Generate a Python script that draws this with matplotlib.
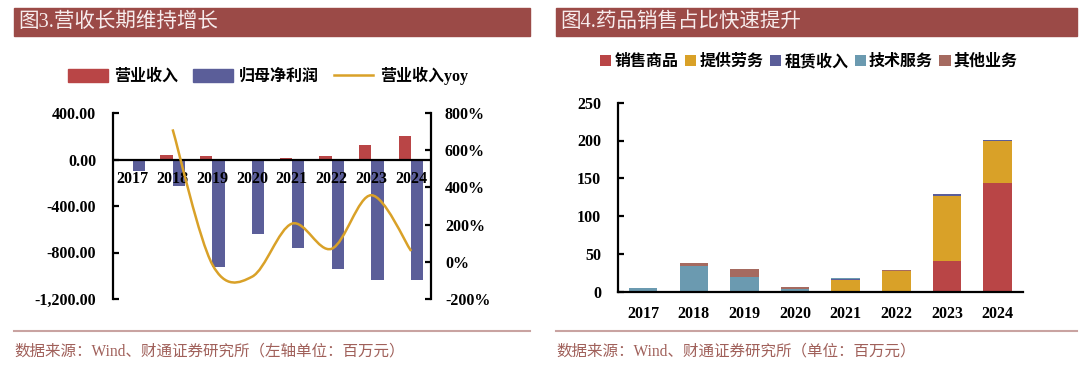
import matplotlib
matplotlib.use('Agg')
import matplotlib.pyplot as plt
from matplotlib.patches import Rectangle, PathPatch
from matplotlib.path import Path
from matplotlib.lines import Line2D
import numpy as np

years = ['2017', '2018', '2019', '2020', '2021', '2022', '2023', '2024']

# left chart (百万元)
revenue = [4.7, 38, 30, 6, 17, 29, 129, 201]
net_profit = [-99, -227, -921, -638, -762, -946, -1040, -1034]
yoy_years = ['2018', '2019', '2020', '2021', '2022', '2023', '2024']
revenue_yoy = [712, -15, -80, 205, 70, 358, 58]

# right chart, stacked
sales_goods = [0, 0, 0, 0, 0, 0, 41, 144]
services = [0, 0, 0, 0, 15.9, 27.3, 86, 55]
leasing = [0, 0, 0, 0, 1.0, 0, 2.0, 2.0]
tech_service = [5.0, 34.4, 19.8, 3.0, 0.7, 0, 0, 0]
other_biz = [0.3, 3.5, 10.2, 3.2, 0, 1.2, 0, 0]

C_RED = '#B94546'
C_BLUE = '#5B5E99'
C_GOLD = '#D9A128'
C_TEAL = '#6B9AB0'
C_BROWN = '#A56A60'
C_BAR = '#9B4A47'

CJK = 'Noto Sans CJK SC'
NUM = ['Liberation Serif', CJK]
TICK_FS = 11.5

plt.rcParams['font.family'] = [CJK, 'DejaVu Sans']

fig = plt.figure(figsize=(10.8, 3.66), dpi=100)

# title bars
for x0, x1, title in [(14, 530, '图3.营收长期维持增长'), (556, 1077, '图4.药品销售占比快速提升')]:
    fig.patches.append(Rectangle((x0 / 1080, 1 - 36 / 366), (x1 - x0) / 1080, 28 / 366,
                                 transform=fig.transFigure, color=C_BAR, zorder=0))
    fig.text((x0 + 4) / 1080, 1 - 22 / 366, title, color='#F7ECEC', fontsize=14.8,
             va='center', ha='left', family=NUM)

# footer lines and source
for x0, x1, src in [(14, 530, '数据来源：Wind、财通证券研究所（左轴单位：百万元）'),
                    (556, 1077, '数据来源：Wind、财通证券研究所（单位：百万元）')]:
    fig.add_artist(Line2D([x0 / 1080, x1 / 1080], [1 - 331 / 366] * 2, color='#C9A3A1',
                          lw=1.5, transform=fig.transFigure))
    fig.text(x0 / 1080, 1 - 352 / 366, src, color='#A0605A', fontsize=11.2,
             va='center', ha='left', family=NUM)

# ---- left chart ----
ax = fig.add_axes([113 / 1080, 1 - 299 / 366, 318 / 1080, 186 / 366])
x = np.arange(len(years))
w = 0.31
ax.bar(x - w / 2, revenue, w, color=C_RED, label='营业收入')
ax.bar(x + w / 2, net_profit, w, color=C_BLUE, label='归母净利润')
ax.set_xlim(-0.5, len(years) - 0.5)
ax.set_ylim(-1200, 400)
ax.set_yticks([-1200, -800, -400, 0, 400])
ax.set_yticklabels(['-1,200.00', '-800.00', '-400.00', '0.00', '400.00'])
ax.axhline(0, color='black', lw=1.6, zorder=3)
for s in ['top', 'bottom', 'right']:
    ax.spines[s].set_visible(False)
ax.spines['left'].set_linewidth(1.6)
ax.set_xticks([])
ax.tick_params(axis='y', direction='in', length=4, width=1.6, pad=12)
for lab in ax.get_yticklabels():
    lab.set_family(NUM)
    lab.set_fontweight('bold')
    lab.set_fontsize(TICK_FS)
for i, yr in enumerate(years):
    ax.text(i, -170, yr, ha='center', va='center', fontsize=TICK_FS,
            fontweight='bold', family=NUM, zorder=4)

ax2 = ax.twinx()
ax2.set_ylim(-200, 800)
ax2.set_yticks([-200, 0, 200, 400, 600, 800])
ax2.set_yticklabels(['-200%', '0%', '200%', '400%', '600%', '800%'])
for s in ['top', 'bottom', 'left']:
    ax2.spines[s].set_visible(False)
ax2.spines['right'].set_linewidth(1.6)
ax2.tick_params(axis='y', direction='in', length=4, width=1.6, pad=10)
for lab in ax2.get_yticklabels():
    lab.set_family(NUM)
    lab.set_fontweight('bold')
    lab.set_fontsize(TICK_FS)

# smoothed line (Excel-style bezier)
px = np.array([years.index(y) for y in yoy_years], dtype=float)
py = np.array(revenue_yoy, dtype=float)
pts = np.column_stack([px, py])
verts = [tuple(pts[0])]
codes = [Path.MOVETO]
n = len(pts)
for i in range(n - 1):
    p0 = pts[i - 1] if i > 0 else pts[i]
    p1 = pts[i]
    p2 = pts[i + 1]
    p3 = pts[i + 2] if i + 2 < n else pts[i + 1]
    c1 = p1 + (p2 - p0) / 6
    c2 = p2 - (p3 - p1) / 6
    verts += [tuple(c1), tuple(c2), tuple(p2)]
    codes += [Path.CURVE4] * 3
ax2.add_patch(PathPatch(Path(verts, codes), facecolor='none', edgecolor=C_GOLD, lw=1.8))

handles = [Rectangle((0, 0), 1, 1, color=C_RED), Rectangle((0, 0), 1, 1, color=C_BLUE),
           Line2D([], [], color=C_GOLD, lw=1.8)]
fig.legend(handles, ['营业收入', '归母净利润', '营业收入yoy'], loc='center',
           bbox_to_anchor=(268 / 1080, 1 - 76 / 366), ncol=3, frameon=False,
           prop={'family': NUM, 'weight': 'bold', 'size': 11.5},
           handlelength=2.5, handleheight=0.8, columnspacing=0.9, handletextpad=0.4)

# ---- right chart ----
bx = fig.add_axes([617.7 / 1080, 1 - 291.7 / 366, 405.3 / 1080, 189 / 366])
series = [('销售商品', sales_goods, C_RED), ('提供劳务', services, C_GOLD),
          ('租赁收入', leasing, C_BLUE), ('技术服务', tech_service, C_TEAL),
          ('其他业务', other_biz, C_BROWN)]
bottom = np.zeros(len(years))
for name, vals, col in series:
    bx.bar(x, vals, 0.56, bottom=bottom, color=col, label=name)
    bottom += np.array(vals)
bx.set_xlim(-0.5, len(years) - 0.5)
bx.set_ylim(0, 250)
bx.set_yticks([0, 50, 100, 150, 200, 250])
bx.set_xticks(x)
bx.set_xticklabels(years)
for s in ['top', 'right']:
    bx.spines[s].set_visible(False)
bx.spines['left'].set_linewidth(1.6)
bx.spines['bottom'].set_linewidth(1.6)
bx.tick_params(axis='y', direction='in', length=4, width=1.6, pad=12)
bx.tick_params(axis='x', length=0, pad=10)
for lab in bx.get_yticklabels() + bx.get_xticklabels():
    lab.set_family(NUM)
    lab.set_fontweight('bold')
    lab.set_fontsize(TICK_FS)

fig.legend(*bx.get_legend_handles_labels(), loc='center',
           bbox_to_anchor=(809 / 1080, 1 - 62 / 366), ncol=5, frameon=False,
           prop={'family': NUM, 'weight': 'bold', 'size': 11.5},
           handlelength=0.7, handleheight=0.7, columnspacing=0.4, handletextpad=0.2)

fig.savefig('out.png', dpi=100)
